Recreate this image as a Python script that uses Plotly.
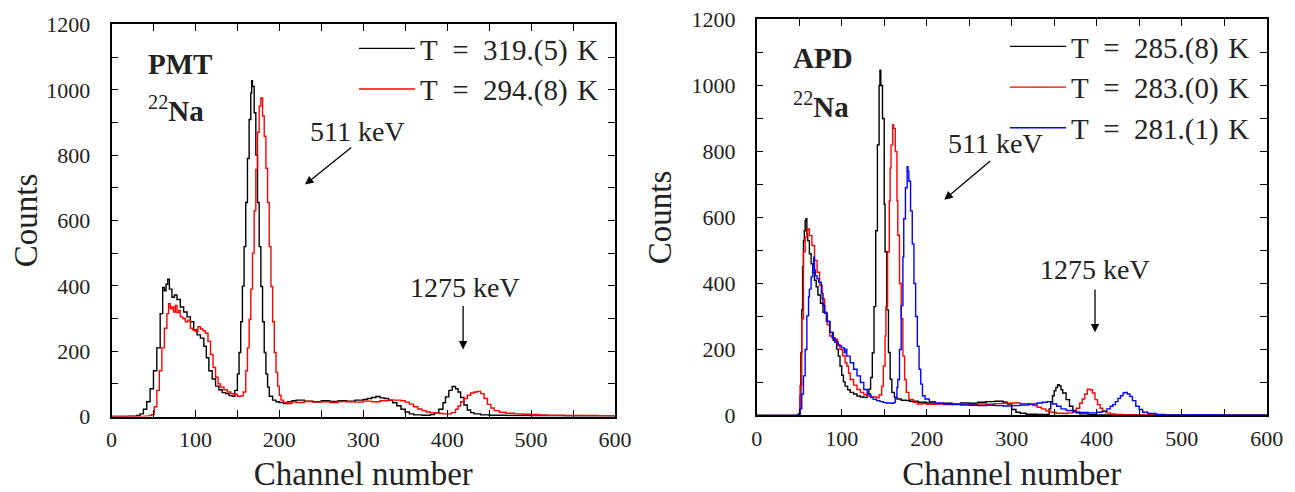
import plotly.graph_objects as go
from plotly.subplots import make_subplots

# PMT panel, T = 319.(5) K
pmt_319_ch = [0, 20, 30, 34, 38, 42, 46, 50, 54, 58, 61, 63, 65, 67, 69, 72, 75, 78, 82, 86,
              90, 94, 98, 102, 106, 110, 113, 116, 120, 124, 128, 132, 136, 140, 144, 147, 150, 152, 154, 156,
              158, 160, 162, 164, 166, 167, 168, 170, 172, 174, 176, 178, 180, 182, 184, 186, 188, 192, 196, 200,
              205, 210, 215, 220, 230, 240, 250, 260, 270, 280, 290, 300, 305, 310, 315, 320, 325, 330, 335, 340,
              345, 350, 355, 360, 370, 380, 385, 390, 395, 398, 402, 406, 410, 413, 416, 420, 424, 428, 432, 440,
              450, 460, 470, 480, 490, 500, 520, 540, 560, 580, 600]
pmt_319_counts = [0, 1, 3, 8, 22, 45, 85, 140, 210, 315, 395, 385, 405, 420, 390, 365, 372, 358, 335, 320,
                  305, 290, 265, 250, 240, 215, 180, 140, 115, 93, 82, 73, 70, 64, 62, 80, 130, 196, 290, 399,
                  520, 655, 790, 909, 990, 1028, 1010, 930, 800, 655, 520, 398, 290, 196, 130, 90, 62, 50, 45, 43,
                  40, 45, 48, 50, 47, 45, 48, 46, 48, 47, 50, 52, 55, 58, 61, 57, 55, 50, 42, 33,
                  22, 14, 8, 5, 4, 6, 12, 22, 42, 60, 80, 92, 85, 75, 58, 35, 20, 12, 8, 5,
                  4, 4, 3, 3, 3, 2, 2, 1, 1, 1, 1]

# PMT panel, T = 294.(8) K
pmt_294_ch = [0, 30, 40, 45, 48, 51, 54, 57, 60, 63, 66, 68, 70, 72, 74, 76, 78, 80, 82, 85,
              88, 91, 94, 97, 100, 103, 106, 109, 112, 115, 118, 121, 124, 127, 130, 134, 138, 142, 146, 150,
              154, 157, 160, 162, 164, 166, 168, 170, 172, 174, 176, 178, 180, 182, 184, 186, 188, 190, 192, 194,
              196, 198, 200, 202, 205, 210, 215, 220, 230, 240, 250, 260, 270, 280, 290, 300, 310, 320, 330, 340,
              345, 350, 355, 360, 365, 370, 375, 380, 385, 390, 395, 400, 405, 410, 413, 416, 420, 424, 428, 432,
              436, 440, 444, 448, 452, 456, 462, 470, 480, 490, 500, 510, 520, 540, 560, 580, 600]
pmt_294_counts = [0, 0, 1, 3, 6, 30, 80, 140, 210, 270, 315, 345, 330, 335, 320, 340, 318, 325, 305, 300,
                  290, 295, 270, 265, 260, 275, 268, 262, 255, 230, 190, 150, 120, 100, 90, 82, 75, 70, 68, 62,
                  63, 75, 140, 210, 297, 390, 500, 630, 756, 870, 950, 975, 920, 858, 760, 655, 520, 398, 290, 196,
                  135, 93, 65, 50, 43, 40, 45, 43, 46, 44, 45, 43, 46, 45, 44, 47, 45, 48, 50, 50,
                  48, 44, 38, 30, 23, 18, 14, 12, 11, 9, 8, 8, 12, 22, 32, 45, 55, 65, 72, 75,
                  77, 70, 55, 37, 26, 18, 13, 10, 8, 7, 6, 5, 4, 3, 3, 2, 2]

# APD panel, T = 285.(8) K
apd_285_ch = [0, 40, 46, 49, 51, 52, 53, 54, 55, 56, 57, 58, 59, 60, 62, 64, 66, 68, 70, 72,
              75, 78, 82, 86, 90, 94, 96, 98, 100, 102, 104, 107, 110, 114, 118, 122, 126, 130, 132, 134,
              136, 138, 140, 142, 144, 145, 146, 148, 150, 151, 153, 155, 157, 159, 162, 165, 170, 176, 180, 190,
              200, 210, 220, 230, 240, 250, 260, 270, 280, 290, 295, 300, 305, 310, 317, 330, 340, 344, 346, 348,
              350, 352, 354, 356, 358, 360, 364, 368, 372, 376, 380, 390, 400, 450, 500, 600]
apd_285_counts = [0, 0, 1, 5, 60, 191, 320, 450, 530, 560, 590, 596, 550, 530, 490, 460, 434, 410, 390, 365,
                  340, 313, 285, 252, 228, 201, 180, 150, 122, 102, 89, 78, 70, 65, 59, 56, 55, 65, 80, 115,
                  190, 330, 560, 820, 1000, 1046, 1000, 900, 640, 496, 320, 191, 110, 70, 55, 50, 46, 45, 43, 40,
                  38, 36, 37, 36, 38, 37, 40, 42, 43, 40, 35, 18, 10, 7, 4, 3, 3, 20, 40, 60,
                  75, 85, 93, 90, 78, 68, 48, 28, 15, 8, 5, 3, 2, 1, 1, 1]

# APD panel, T = 283.(0) K
apd_283_ch = [0, 45, 49, 51, 53, 55, 57, 59, 60, 62, 65, 68, 71, 74, 77, 80, 83, 86, 89, 92,
              95, 98, 101, 104, 106, 108, 110, 114, 118, 122, 126, 130, 135, 141, 144, 147, 149, 151, 152, 154,
              156, 157, 158, 160, 161, 163, 165, 166, 168, 170, 172, 174, 176, 179, 184, 189, 195, 200, 210, 220,
              230, 240, 250, 260, 270, 280, 290, 300, 310, 320, 325, 330, 335, 340, 345, 352, 360, 366, 372, 376,
              380, 383, 386, 389, 392, 395, 398, 401, 404, 407, 411, 416, 422, 430, 450, 500, 550, 600]
apd_283_counts = [0, 0, 3, 90, 293, 496, 540, 560, 565, 545, 515, 470, 434, 395, 353, 310, 275, 241, 235, 231,
                  215, 200, 181, 160, 150, 128, 109, 92, 79, 70, 63, 59, 56, 54, 62, 89, 150, 241, 330, 496,
                  650, 750, 820, 881, 870, 800, 650, 546, 400, 293, 180, 109, 70, 49, 40, 35, 36, 34, 35, 33,
                  35, 34, 33, 35, 34, 36, 37, 38, 36, 33, 30, 25, 20, 14, 10, 7, 6, 8, 12, 22,
                  37, 50, 65, 80, 78, 68, 48, 33, 22, 14, 8, 5, 3, 2, 2, 1, 1, 1]

# APD panel, T = 281.(1) K
apd_281_ch = [0, 45, 49, 51, 53, 55, 57, 59, 61, 62, 64, 66, 67, 68, 69, 71, 73, 76, 78, 80,
              83, 86, 89, 92, 96, 100, 103, 104, 106, 110, 114, 118, 122, 126, 130, 134, 137, 141, 145, 149,
              153, 157, 161, 163, 165, 166, 168, 170, 172, 173, 175, 177, 178, 179, 181, 183, 185, 187, 189, 191,
              193, 195, 198, 203, 210, 220, 230, 240, 250, 260, 270, 280, 290, 300, 310, 320, 330, 336, 342, 348,
              353, 358, 364, 372, 380, 390, 400, 406, 412, 416, 419, 422, 425, 428, 431, 433, 436, 439, 442, 446,
              450, 454, 460, 470, 480, 500, 550, 600]
apd_281_counts = [0, 0, 3, 20, 65, 120, 200, 302, 360, 383, 420, 454, 480, 440, 424, 415, 404, 370, 333, 310,
                  285, 252, 235, 222, 211, 205, 190, 201, 180, 160, 140, 120, 100, 79, 65, 55, 49, 45, 42, 39,
                  38, 37, 39, 55, 85, 109, 200, 333, 480, 596, 690, 754, 740, 710, 620, 520, 400, 300, 210, 140,
                  95, 60, 50, 42, 38, 35, 33, 32, 31, 30, 31, 30, 29, 30, 32, 35, 38, 40, 42, 35,
                  28, 20, 15, 11, 9, 8, 10, 12, 20, 28, 33, 42, 52, 60, 68, 70, 65, 58, 45, 28,
                  18, 10, 6, 3, 2, 2, 1, 1]

x_ticks = [0, 100, 200, 300, 400, 500, 600]
y_ticks = [0, 200, 400, 600, 800, 1000, 1200]

FONT = "Liberation Serif, serif"
SP = "\u2002"


def temp_label(t):
    return "T" + SP + "=" + SP + t + "\u2004K"


fig = make_subplots(rows=1, cols=2)

left = [(pmt_319_ch, pmt_319_counts, "black", temp_label("319.(5)")),
        (pmt_294_ch, pmt_294_counts, "#ff0000", temp_label("294.(8)"))]
right = [(apd_285_ch, apd_285_counts, "black", temp_label("285.(8)")),
         (apd_283_ch, apd_283_counts, "#ff0000", temp_label("283.(0)")),
         (apd_281_ch, apd_281_counts, "#0000ff", temp_label("281.(1)"))]

for ch, cnt, col, name in left:
    fig.add_trace(go.Scatter(x=ch, y=cnt, mode="lines", line=dict(color=col, width=1.4, shape="hv"),
                             name=name, legend="legend"), row=1, col=1)
for ch, cnt, col, name in right:
    fig.add_trace(go.Scatter(x=ch, y=cnt, mode="lines", line=dict(color=col, width=1.4, shape="hv"),
                             name=name, legend="legend2"), row=1, col=2)

axis_common = dict(showline=True, linecolor="black", linewidth=1.6, mirror="ticks",
                   ticks="inside", ticklen=7, tickwidth=1.3, tickcolor="black",
                   showgrid=False, zeroline=False, automargin=False, ticklabeloverflow="allow",
                   tickfont=dict(family=FONT, size=22, color="#222"))

fig.update_xaxes(**axis_common, range=[0, 600], tickvals=x_ticks,
                 minor=dict(dtick=50, tick0=0, ticks="inside", ticklen=7, tickwidth=1.3, tickcolor="black", showgrid=False),
                 title=dict(text="Channel number", font=dict(family=FONT, size=33, color="#222"), standoff=17),
                 ticklabelstandoff=2)
fig.update_yaxes(**axis_common, range=[0, 1200], tickvals=y_ticks,
                 minor=dict(dtick=100, tick0=0, ticks="inside", ticklen=7, tickwidth=1.3, tickcolor="black", showgrid=False),
                 title=dict(text="Counts", font=dict(family=FONT, size=33, color="#222"), standoff=10),
                 ticklabelstandoff=15)

# page body adds an 8 px offset; the figure is sized to fit the window
W, H = 1287, 484
fig.update_layout(
    xaxis=dict(domain=[0.08042, 0.47164]),
    xaxis2=dict(domain=[0.58174, 0.97801]),
    yaxis=dict(domain=[0.15599, 0.96591]),
    yaxis2=dict(domain=[0.15806, 0.97624]),
)

legend_common = dict(font=dict(family=FONT, size=29, color="#222"), bgcolor="rgba(0,0,0,0)",
                     xanchor="right", yanchor="top", tracegroupgap=0, itemwidth=56)
fig.update_layout(
    legend=dict(**legend_common, x=0.4631, y=0.969),
    legend2=dict(**legend_common, x=0.9689, y=0.973),
)

ann_font = dict(family=FONT, size=28, color="#222")
arrow = dict(text="", showarrow=True, arrowhead=2, arrowsize=1.3, arrowwidth=1.3, arrowcolor="black")
label_font = dict(family=FONT, size=29, color="#222")
annotations = [
    dict(xref="x", yref="y", x=293, y=871, text="511 keV", showarrow=False, font=ann_font),
    dict(xref="x", yref="y", x=230.6, y=710, ax=287.5, ay=827, axref="x", ayref="y", **arrow),
    dict(xref="x", yref="y", x=421, y=396, text="1275 keV", showarrow=False, font=ann_font),
    dict(xref="x", yref="y", x=419, y=205, ax=419, ay=343, axref="x", ayref="y", **arrow),
    dict(xref="x2", yref="y2", x=281, y=824, text="511 keV", showarrow=False, font=ann_font),
    dict(xref="x2", yref="y2", x=220.7, y=654, ax=276.5, ay=775, axref="x2", ayref="y2", **arrow),
    dict(xref="x2", yref="y2", x=398, y=441, text="1275 keV", showarrow=False, font=ann_font),
    dict(xref="x2", yref="y2", x=398, y=252, ax=398, ay=386, axref="x2", ayref="y2", **arrow),
    dict(xref="paper", yref="paper", x=0.1070, y=0.8853, xanchor="left", yanchor="middle",
         text="<b>PMT</b>", showarrow=False, font=label_font),
    dict(xref="paper", yref="paper", x=0.1070, y=0.7920, xanchor="left", yanchor="middle",
         text="<sup>22</sup><b>Na</b>", showarrow=False, font=label_font),
    dict(xref="paper", yref="paper", x=0.6081, y=0.8967, xanchor="left", yanchor="middle",
         text="<b>APD</b>", showarrow=False, font=label_font),
    dict(xref="paper", yref="paper", x=0.6081, y=0.7993, xanchor="left", yanchor="middle",
         text="<sup>22</sup><b>Na</b>", showarrow=False, font=label_font),
]

fig.update_layout(
    annotations=annotations,
    width=W, height=H,
    margin=dict(l=0, r=0, t=0, b=0),
    paper_bgcolor="white", plot_bgcolor="white",
    font=dict(family=FONT),
)

fig.write_html("out.html")
